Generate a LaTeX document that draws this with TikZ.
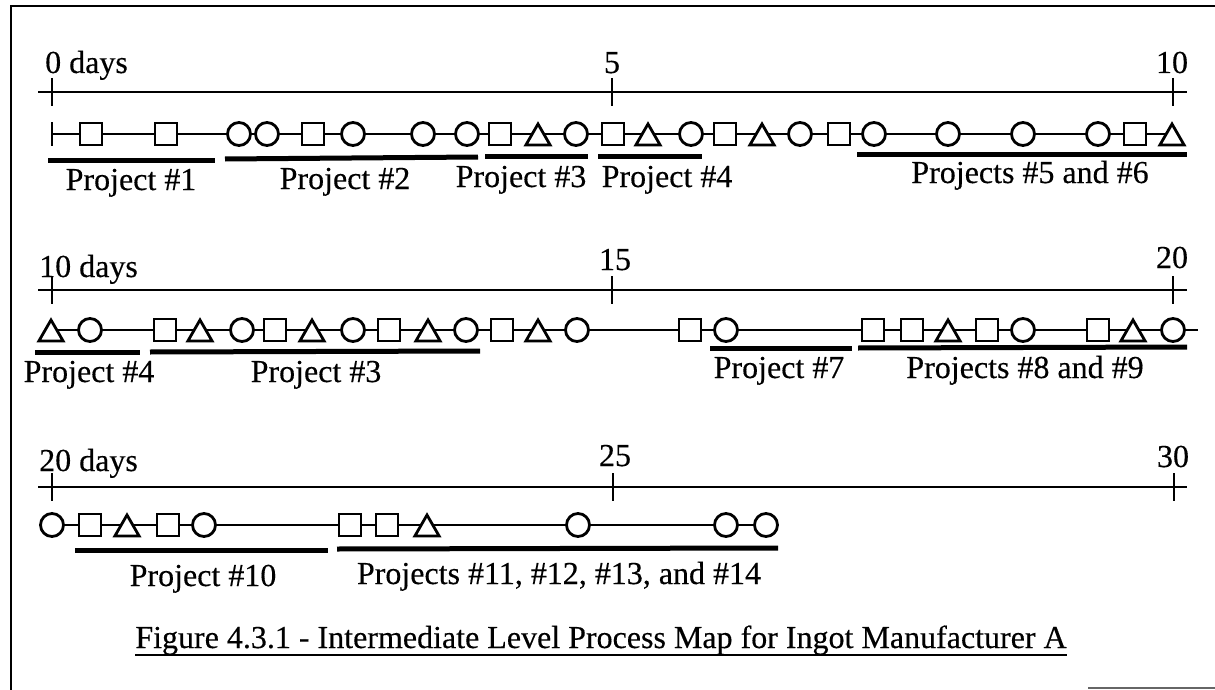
\documentclass[tikz,border=0pt]{standalone}
\usepackage{fontspec}
\setmainfont{Liberation Serif}[FakeBold=0.35]
\usetikzlibrary{shapes.geometric,backgrounds}
\begin{document}
\begin{tikzpicture}[x=1pt,y=1pt,
  txt/.style={font=\fontsize{32}{38}\selectfont,inner sep=0pt},
  shsq/.style={draw,fill=white,line width=2.8pt,minimum size=22pt,inner sep=0pt},
  shci/.style={draw,fill=white,circle,line width=2.8pt,minimum size=23pt,inner sep=0pt},
  shtr/.style={draw,fill=white,regular polygon,regular polygon sides=3,line width=2.8pt,minimum size=28pt,inner sep=0pt,yshift=-4pt},
  shbar/.style={fill=black,minimum width=2.8pt,minimum height=24pt,inner sep=0pt},
  proc/.style={line width=1.8pt},
  tline/.style={line width=2.2pt},
  tickln/.style={line width=2.8pt},
  projbar/.style={line width=5pt},
  frameln/.style={line width=2.6pt}]
\useasboundingbox (0,0) rectangle (1215,-690);
% frame
\draw[frameln] (1215,-6) -- (11,-6) -- (11,-690);
\draw[line width=2pt,black!60] (1088,-688) -- (1215,-688);

% ---------------- Row 1 ----------------
\coordinate (tl1a) at (38,-92);
\coordinate (tl1b) at (1187,-92);
\draw[tline] (tl1a) -- (tl1b);
\foreach \x in {52,612,1173} \draw[tickln] (\x,-78) -- (\x,-106);
\node[txt,anchor=base west] (d0) at (45,-73) {0 days};
\node[txt,anchor=base] (d5) at (612,-73) {5};
\node[txt,anchor=base] (d10a) at (1172,-73) {10};

\foreach \x/\t [count=\i] in {52/shbar,91/shsq,166/shsq,239/shci,267/shci,313/shsq,353/shci,
  423/shci,467/shci,500/shsq,538/shtr,576/shci,613/shsq,648/shtr,691/shci,725/shsq,762/shtr,
  800/shci,839/shsq,874/shci,948/shci,1023/shci,1098/shci,1135/shsq,1172/shtr}
  \node[\t] (r1n\i) at (\x,-134) {};
\begin{scope}[on background layer]
\draw[proc] (r1n1.center) -- (r1n1.center -| r1n25.center);
\end{scope}
\draw[projbar] (48,-160) -- (215,-160);
\draw[projbar] (225,-159) -- (478,-157);
\draw[projbar] (485,-156) -- (588,-156);
\draw[projbar] (598,-156) -- (702,-156);
\draw[projbar] (857,-154) -- (1187,-154);
\node[txt,anchor=base] (p1) at (131,-190) {Project \#1};
\node[txt,anchor=base] (p2) at (345,-189) {Project \#2};
\node[txt,anchor=base] (p3) at (521,-187) {Project \#3};
\node[txt,anchor=base] (p4) at (667,-187) {Project \#4};
\node[txt,anchor=base] (p56) at (1030,-183) {Projects \#5 and \#6};

% ---------------- Row 2 ----------------
\coordinate (tl2a) at (38,-290);
\coordinate (tl2b) at (1187,-290);
\draw[tline] (tl2a) -- (tl2b);
\foreach \x in {52,612,1173} \draw[tickln] (\x,-276) -- (\x,-304);
\node[txt,anchor=base west] (d10) at (39,-277) {10 days};
\node[txt,anchor=base] (d15) at (615,-270) {15};
\node[txt,anchor=base] (d20a) at (1172,-268) {20};

\foreach \x/\t [count=\i] in {51/shtr,90/shci,165/shsq,200/shtr,242/shci,275/shsq,312/shtr,
  353/shci,389/shsq,428/shtr,466/shci,502/shsq,538/shtr,577/shci,690/shsq,726/shci,
  873/shsq,912/shsq,948/shtr,987/shsq,1023/shci,1098/shsq,1133/shtr,1173/shci}
  \node[\t] (r2n\i) at (\x,-330) {};
\coordinate (r2tail) at (1198,-330);
\begin{scope}[on background layer]
\draw[proc] (r2n1.center |- r2tail) -- (r2tail);
\end{scope}
\draw[projbar] (35,-352) -- (140,-352);
\draw[projbar] (150,-352) -- (480,-351);
\draw[projbar] (710,-348) -- (852,-348);
\draw[projbar] (858,-348) -- (1187,-347);
\node[txt,anchor=base] (q4) at (89,-382) {Project \#4};
\node[txt,anchor=base] (q3) at (316,-382) {Project \#3};
\node[txt,anchor=base] (q7) at (779,-378) {Project \#7};
\node[txt,anchor=base] (q89) at (1025,-378) {Projects \#8 and \#9};

% ---------------- Row 3 ----------------
\coordinate (tl3a) at (38,-487);
\coordinate (tl3b) at (1187,-487);
\draw[tline] (tl3a) -- (tl3b);
\foreach \x in {52,613,1174} \draw[tickln] (\x,-473) -- (\x,-501);
\node[txt,anchor=base west] (d20) at (39,-471) {20 days};
\node[txt,anchor=base] (d25) at (615,-466) {25};
\node[txt,anchor=base] (d30) at (1173,-467) {30};

\foreach \x/\t [count=\i] in {52/shci,90/shsq,127/shtr,168/shsq,204/shci,350/shsq,387/shsq,
  427/shtr,578/shci,726/shci,766/shci}
  \node[\t] (r3n\i) at (\x,-525) {};
\begin{scope}[on background layer]
\draw[proc] (r3n1.center) -- (r3n11.center);
\end{scope}
\draw[projbar] (75,-550) -- (328,-550);
\draw[projbar] (337,-549) -- (778,-548);
\node[txt,anchor=base] (s10) at (203,-586) {Project \#10};
\node[txt,anchor=base] (s11) at (559,-584) {Projects \#11, \#12, \#13, and \#14};

% ---------------- Caption ----------------
\node[txt,anchor=base] (cap) at (601,-648) {Figure 4.3.1 - Intermediate Level Process Map for Ingot Manufacturer A};
\draw[line width=2pt] ([yshift=-7pt]cap.base west) -- ([yshift=-7pt]cap.base east);
\end{tikzpicture}
\end{document}
